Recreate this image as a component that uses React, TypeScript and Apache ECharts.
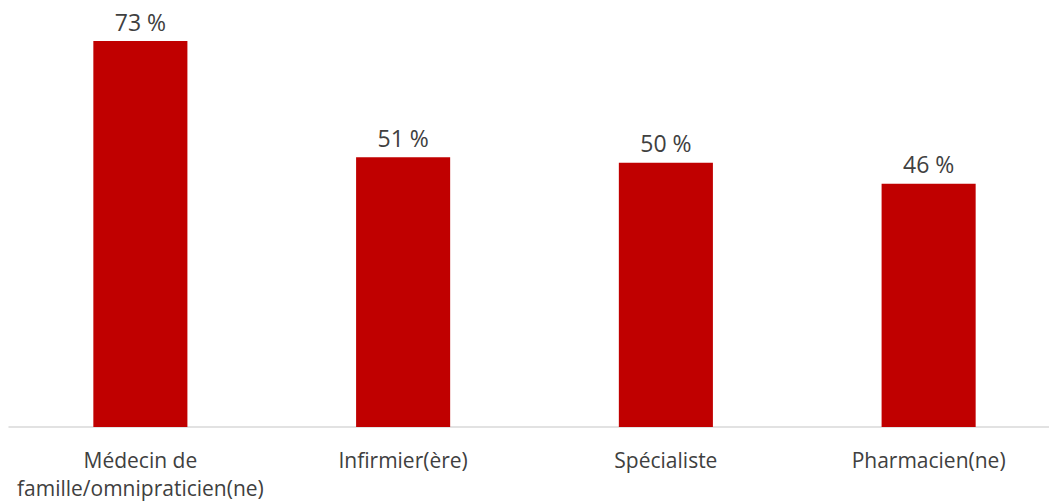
import React, { useEffect, useRef } from "react";
import * as echarts from "echarts";

const categories = [
  "Médecin de\nfamille/omnipraticien(ne)",
  "Infirmier(ère)",
  "Spécialiste",
  "Pharmacien(ne)",
];
const values = [73, 51, 50, 46];

export default function App() {
  const ref = useRef<HTMLDivElement>(null);
  useEffect(() => {
    document.body.style.margin = "0";
    const chart = echarts.init(ref.current!, null, { renderer: "svg" });
    chart.setOption({
      animation: false,
      grid: { left: 9, top: 4, right: 0, bottom: 68, containLabel: false },
      xAxis: {
        type: "category",
        data: categories,
        axisLine: { lineStyle: { color: "#d9d9d9", width: 1.5 } },
        axisTick: { show: false },
        axisLabel: {
          color: "#404040",
          fontFamily: "Open Sans",
          fontSize: 21,
          lineHeight: 28,
          margin: 19,
          interval: 0,
        },
      },
      yAxis: {
        type: "value",
        min: 0,
        max: 80,
        show: false,
        splitLine: { show: false },
      },
      series: [
        {
          type: "bar",
          data: values,
          barWidth: "35.8%",
          itemStyle: { color: "#C00000" },
          label: {
            show: true,
            position: "top",
            distance: 8,
            formatter: "{c} %",
            color: "#404040",
            fontFamily: "Open Sans",
            fontSize: 23,
          },
        },
      ],
    });
    return () => chart.dispose();
  }, []);
  return (
    <div
      style={{
        position: "relative",
        width: 1049,
        height: 502,
        overflow: "hidden",
      }}
    >
      <div
        ref={ref}
        style={{ position: "absolute", left: 0, top: 0, width: 1060, height: 502 }}
      />
    </div>
  );
}
